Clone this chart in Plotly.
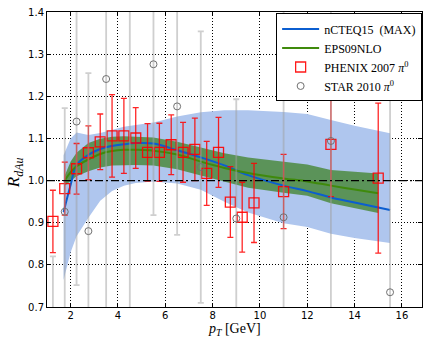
import plotly.graph_objects as go

# ---------------- data ----------------
phenix_pt = [1.25, 1.75, 2.25, 2.75, 3.25, 3.75, 4.25, 4.75, 5.25, 5.75, 6.25, 6.75,
             7.25, 7.75, 8.25, 8.75, 9.25, 9.75, 11.0, 13.0, 15.0]
phenix_r = [0.903, 0.981, 1.028, 1.066, 1.092, 1.106, 1.106, 1.101, 1.067, 1.067, 1.085, 1.067,
            1.074, 1.017, 1.067, 0.949, 0.913, 0.947, 0.974, 1.086, 1.006]
phenix_err = [0.074, 0.063, 0.060, 0.064, 0.066, 0.098, 0.089, 0.072, 0.068, 0.069, 0.071, 0.071,
              0.074, 0.076, 0.083, 0.084, 0.083, 0.094, 0.088, 0.124, 0.178]

star_pt = [1.25, 1.75, 2.25, 2.75, 3.5, 4.5, 5.5, 6.5, 7.5, 9.0, 11.0, 13.0, 15.5]
star_r = [0.60, 0.926, 1.14, 0.88, 1.241, 1.45, 1.276, 1.176, 1.032, 0.91, 0.913, 1.094, 0.735]
star_err = [0.22, 0.246, 0.388, 0.375, 0.60, 0.80, 0.358, 0.305, 0.322, 0.283, 0.52, 0.45, 0.50]

ncteq_pt = [1.7, 2.0, 2.25, 2.75, 3.25, 3.75, 4.25, 4.75, 5.5, 6.5, 7.5, 8.5, 9.5, 11.0, 12.0, 13.0, 14.0, 15.5]
ncteq_c = [0.925, 0.99, 1.037, 1.061, 1.075, 1.082, 1.086, 1.089, 1.088, 1.072, 1.055, 1.036, 1.013,
           0.988, 0.975, 0.96, 0.948, 0.93]
ncteq_lo = [0.764, 0.83, 0.868, 0.912, 0.952, 0.975, 0.988, 0.994, 0.998, 0.993, 0.978, 0.95, 0.924,
            0.899, 0.89, 0.874, 0.864, 0.852]
ncteq_hi = [1.06, 1.10, 1.114, 1.108, 1.113, 1.12, 1.128, 1.132, 1.138, 1.152, 1.162, 1.167, 1.167,
            1.163, 1.158, 1.144, 1.13, 1.112]

eps_pt = [1.75, 2.0, 2.25, 2.75, 3.25, 3.75, 4.25, 4.75, 5.5, 6.5, 7.5, 8.5, 9.5, 11.0, 12.0, 13.0, 14.0, 15.0]
eps_c = [1.0, 1.02, 1.034, 1.05, 1.063, 1.07, 1.073, 1.073, 1.071, 1.062, 1.045, 1.03, 1.018,
         1.005, 0.998, 0.988, 0.979, 0.97]
eps_hi = [1.012, 1.045, 1.066, 1.089, 1.099, 1.104, 1.105, 1.104, 1.102, 1.092, 1.078, 1.065, 1.055,
          1.045, 1.038, 1.025, 1.021, 1.017]
eps_lo = [0.988, 1.0, 1.01, 1.022, 1.031, 1.036, 1.037, 1.037, 1.036, 1.027, 1.012, 0.998, 0.983,
          0.971, 0.964, 0.946, 0.935, 0.923]

x_ticks = [2, 4, 6, 8, 10, 12, 14, 16]
y_ticks = [0.7, 0.8, 0.9, 1.0, 1.1, 1.2, 1.3, 1.4]

# ---------------- figure ----------------
fig = go.Figure()

# nCTEQ15 band
fig.add_trace(go.Scatter(x=ncteq_pt, y=ncteq_lo, mode="lines", line=dict(width=0),
                         showlegend=False, hoverinfo="skip"))
fig.add_trace(go.Scatter(x=ncteq_pt, y=ncteq_hi, mode="lines", line=dict(width=0),
                         fill="tonexty", fillcolor="#AFC6EE", showlegend=False, hoverinfo="skip"))
# EPS09 band
fig.add_trace(go.Scatter(x=eps_pt, y=eps_lo, mode="lines", line=dict(width=0),
                         showlegend=False, hoverinfo="skip"))
fig.add_trace(go.Scatter(x=eps_pt, y=eps_hi, mode="lines", line=dict(width=0),
                         fill="tonexty", fillcolor="rgba(62,130,36,0.74)", showlegend=False,
                         hoverinfo="skip"))

# central lines
fig.add_trace(go.Scatter(x=ncteq_pt, y=ncteq_c, mode="lines", name="nCTEQ15\u00a0\u00a0(MAX)",
                         line=dict(color="#0B5ED0", width=2, shape="spline")))
fig.add_trace(go.Scatter(x=eps_pt, y=eps_c, mode="lines", name="EPS09NLO",
                         line=dict(color="#3F8A0C", width=2, shape="spline")))

# PHENIX
fig.add_trace(go.Scatter(
    x=phenix_pt, y=phenix_r, mode="markers", name="PHENIX 2007 <i>π</i><sup>0</sup>",
    marker=dict(symbol="square-open", size=10, color="rgba(255,0,0,0.9)", line=dict(width=1.3)),
    error_y=dict(type="data", array=phenix_err, color="rgba(255,0,0,0.85)", thickness=1.3, width=3)))

# STAR
fig.add_trace(go.Scatter(
    x=star_pt, y=star_r, mode="markers", name="STAR 2010 <i>π</i><sup>0</sup>",
    marker=dict(symbol="circle-open", size=7, color="#707070", line=dict(width=1)),
    error_y=dict(type="data", array=star_err, color="rgba(160,160,160,0.5)", thickness=1.8, width=3)))

fig.add_hline(y=1.0, line=dict(color="black", width=1.2, dash="8px,3px,2px,3px"))

axis_common = dict(showline=True, linecolor="black", linewidth=1, mirror="ticks",
                   ticks="inside", ticklen=4, tickcolor="black",
                   showgrid=True, gridcolor="black", griddash="1px,2px", gridwidth=1,
                   zeroline=False, tickfont=dict(family="DejaVu Sans", size=10, color="black"))

fig.update_xaxes(range=[1.0, 16.85], tickvals=x_ticks, ticktext=[str(v) for v in x_ticks],
                 ticklabelstandoff=-1, **axis_common)
fig.update_yaxes(range=[0.7, 1.4], tickvals=y_ticks, ticktext=[f"{v:.1f}" for v in y_ticks],
                 ticklabelstandoff=0, **axis_common)

fig.add_annotation(text="<i>p</i><sub><i>T</i></sub> [GeV]", xref="paper", yref="paper",
                   x=0.5, y=-0.077, xanchor="center", yanchor="middle", showarrow=False,
                   font=dict(family="Liberation Serif", size=14, color="black"))
fig.add_annotation(text="<i>R</i><sub><i>dAu</i></sub>", xref="paper", yref="paper",
                   x=-0.085, y=0.454, xanchor="center", yanchor="middle", showarrow=False,
                   textangle=-90, font=dict(family="Liberation Serif", size=17, color="black"))

fig.update_layout(
    width=423, height=341,
    margin=dict(l=47, r=1, t=12, b=34),
    plot_bgcolor="white", paper_bgcolor="white",
    legend=dict(x=0.611, y=0.995, xanchor="left", yanchor="top", traceorder="normal",
                bgcolor="white", bordercolor="black", borderwidth=1,
                font=dict(family="Liberation Serif", size=12, color="black"),
                tracegroupgap=0, itemwidth=37),
)

fig.write_html("out.html", config={"displayModeBar": False},
               post_script="document.body.style.margin='0';document.body.style.padding='0';")
